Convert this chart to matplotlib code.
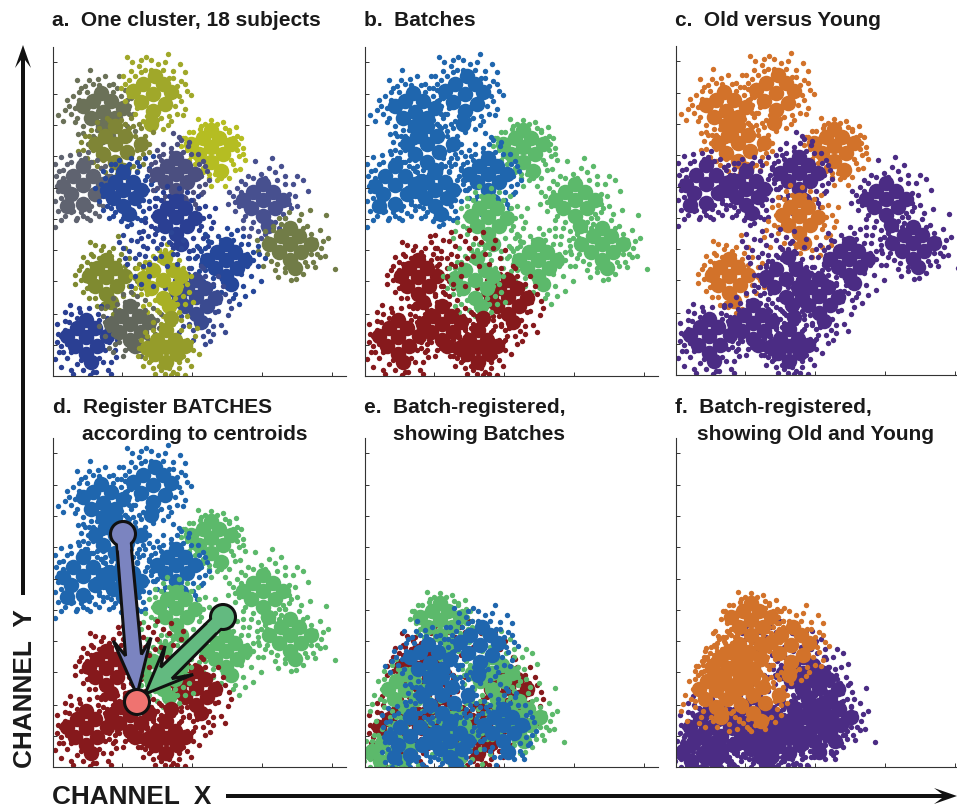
#! /usr/bin/python
import numpy as np
import matplotlib
matplotlib.use("Agg")
import matplotlib.pyplot as plt
from matplotlib.patches import Circle, Polygon

plt.rcParams['font.family'] = ['Liberation Sans', 'DejaVu Sans']

# points read off panel a, x/y measured from the axes origin
# core = dense middle of a subject, dots = single events around it
s01_core = [(50,264),(40,275),(58,275),(38,258),(62,258),(50,250),(48,283),(30,270),(70,268),(55,240)]
s01_dots = [(37,306),(5,261),(12,266),(18,262),(25,242),(28,288),(20,280),(24,296),(45,297),(52,300),(60,292),(66,300),(72,286),(78,278),(14,276),(22,254),(30,243),(35,232),(74,250),(80,262),(70,240),(64,228),(46,291),(34,284),(16,270),(82,245),(42,238),(10,255),
            (22,268),(26,276),(32,290),(40,292),(56,291),(64,288),(74,276),(76,262),(72,252),(66,244),(58,234),(50,234),(40,240),(30,250),(24,258),(36,296),(60,284),(34,262),(44,246),(68,280),(26,284),(76,270)]
s02_core = [(100,282),(90,292),(110,292),(88,274),(112,272),(100,265),(102,300),(118,284),(80,285),(98,252)]
s02_dots = [(74,319),(79,314),(88,316),(93,319),(98,316),(115,322),(127,312),(132,304),(138,281),(132,267),(130,261),(110,247),(115,251),(70,300),(78,305),(86,310),(105,312),(120,305),(128,295),(134,285),(128,275),(124,262),(108,258),(90,255),(82,262),(72,275),(68,288),(118,255),
            (76,296),(82,300),(92,306),(98,306),(110,306),(116,298),(124,290),(126,280),(122,270),(116,260),(104,256),(94,260),(84,268),(76,280),(72,292),(106,300),(120,298),(88,304),(132,292),(112,314),(96,258),(80,290)]
s03_core = [(62,232),(52,240),(72,240),(50,222),(74,224),(62,214),(62,250),(88,232),(42,232),(70,206)]
s03_dots = [(25,225),(34,218),(28,234),(38,246),(44,254),(80,250),(88,248),(92,240),(86,218),(80,210),(56,200),(48,208),(40,214),(96,232),(78,258),(66,262),(54,258),(84,205),(90,222),(32,240),(100,244),(60,196),(74,198),
            (36,240),(40,226),(36,214),(44,210),(52,204),(64,202),(76,208),(84,226),(92,232),(82,240),(76,248),(68,256),(56,256),(46,248),(38,232),(90,212),(72,252),(30,226),(58,198),(96,224),(86,252),(50,216)]
s04_core = [(158,229),(150,238),(166,238),(146,222),(170,222),(158,214),(158,246),(178,232),(138,232),(168,205)]
s04_dots = [(145,257),(158,256),(183,249),(185,232),(187,207),(170,254),(147,247),(130,238),(136,244),(152,252),(176,246),(184,240),(190,228),(186,220),(180,212),(176,198),(164,196),(156,202),(150,208),(142,212),(138,220),(192,216),(172,190),(158,190),(128,230),
            (134,226),(132,238),(140,244),(148,250),(164,252),(172,248),(180,238),(184,226),(178,216),(172,208),(162,202),(150,204),(144,214),(136,216),(176,244),(188,238),(168,198),(154,246),(182,206),(142,236),(156,198),(190,222)]
s05_core = [(30,191),(20,200),(40,200),(18,182),(42,182),(30,172),(30,210),(10,190),(50,192),(14,170)]
s05_dots = [(8,219),(17,221),(2,212),(35,224),(2,149),(8,156),(23,156),(37,156),(3,200),(5,185),(2,175),(5,165),(12,160),(20,165),(30,160),(42,163),(50,170),(55,178),(58,200),(52,210),(44,216),(26,222),(14,212),(6,205),(36,166),(60,188),
            (6,194),(8,178),(12,170),(18,164),(28,164),(38,170),(46,172),(52,180),(56,190),(54,200),(48,208),(38,214),(28,216),(18,214),(10,206),(4,190),(24,158),(46,160),(60,196),(32,218),(10,198),(34,158)]
s06_core = [(70,186),(62,194),(80,194),(60,178),(82,178),(70,170),(70,204),(88,186),(54,186),(76,162)]
s06_dots = [(50,205),(58,212),(66,216),(78,218),(86,210),(92,218),(100,220),(94,200),(98,192),(102,186),(96,175),(90,165),(84,158),(78,152),(68,155),(56,158),(50,166),(46,175),(88,156),(74,210),(60,160),(104,178),(84,214),
            (48,192),(52,198),(58,206),(68,210),(76,212),(84,204),(92,196),(94,186),(90,176),(86,170),(80,160),(70,158),(62,164),(54,170),(50,180),(96,208),(62,212),(100,196),(74,150),(58,168),(92,158),(42,188)]
s07_core = [(123,202),(114,210),(132,210),(112,194),(134,194),(123,186),(123,218),(142,202),(104,202),(128,175)]
s07_dots = [(120,243),(126,239),(110,232),(104,226),(118,228),(135,230),(145,222),(150,215),(154,205),(152,192),(148,182),(140,176),(134,168),(120,170),(110,176),(100,186),(98,196),(98,212),(106,220),(128,236),(156,196),(116,162),(144,168),
            (102,214),(110,222),(118,224),(130,224),(138,222),(146,212),(148,200),(146,190),(140,184),(132,178),(122,176),(112,180),(104,188),(100,200),(124,232),(152,210),(114,170),(142,172),(96,206),(136,234),(108,216),(150,184)]
s08_core = [(123,159),(114,168),(132,168),(112,150),(134,150),(123,142),(123,175),(142,158),(106,160),(128,132)]
s08_dots = [(145,180),(152,170),(156,160),(158,148),(150,138),(146,128),(136,125),(120,128),(108,132),(102,142),(98,150),(96,168),(102,178),(110,184),(134,184),(148,150),(162,168),(155,130),(90,145),(124,122),(112,122),(94,128),(88,138),
            (100,160),(102,170),(108,176),(116,180),(128,180),(138,176),(146,168),(150,158),(146,146),(140,138),(130,130),(118,132),(110,138),(102,148),(136,118),(154,140),(114,190),(92,154),(160,154),(126,188),(106,126),(144,120)]
s09_core = [(210,176),(200,184),(220,184),(198,168),(222,168),(210,160),(210,192),(230,176),(190,176),(215,150)]
s09_dots = [(202,215),(219,218),(250,196),(255,185),(188,195),(195,200),(208,202),(222,204),(232,200),(240,192),(242,180),(238,168),(232,158),(226,148),(212,142),(198,148),(190,156),(182,165),(180,180),(184,188),(175,172),(196,140),(205,145),(228,140),(236,150),
            (188,184),(192,192),(200,198),(212,198),(224,196),(232,192),(236,182),(236,172),(230,162),(222,154),(210,150),(200,154),(192,160),(186,170),(182,174),(244,170),(216,208),(228,210),(176,184),(208,138),(244,200),(190,148)]
s10_core = [(237,132),(228,140),(246,140),(226,124),(248,124),(237,116),(237,148),(258,132),(216,132),(242,108)]
s10_dots = [(282,107),(273,161),(257,166),(275,138),(267,146),(267,119),(262,109),(243,97),(225,99),(205,125),(212,145),(218,115),(210,110),(220,150),(232,158),(246,156),(254,150),(262,130),(264,122),(254,110),(250,102),(232,104),(222,106),(270,135),
            (214,122),(214,138),(220,146),(228,152),(240,152),(250,148),(258,142),(262,136),(258,122),(252,114),(242,108),(232,108),(224,112),(216,128),(268,128),(248,162),(236,164),(204,136),(260,114),(238,96),(272,120),(226,158)]
s11_core = [(173,116),(164,124),(182,124),(162,108),(184,108),(173,100),(173,132),(192,116),(154,116),(178,92)]
s11_dots = [(195,132),(200,124),(205,130),(190,140),(178,142),(165,140),(155,135),(148,125),(142,118),(146,105),(150,95),(160,90),(168,84),(182,82),(190,90),(198,100),(205,110),(200,85),(208,95),(186,72),(180,78),(152,142),(212,118),
            (150,120),(152,128),(158,134),(168,136),(180,136),(188,132),(194,122),(194,110),(188,102),(180,96),(170,94),(160,98),(152,106),(148,112),(200,116),(174,148),(144,130),(166,78),(192,80),(206,122),(138,108),(184,146)]
s12_core = [(143,79),(134,88),(152,88),(132,70),(154,70),(143,62),(143,96),(162,78),(126,78),(148,54)]
s12_dots = [(170,90),(165,65),(160,50),(155,45),(157,35),(172,44),(175,61),(168,51),(165,100),(150,108),(135,102),(122,96),(118,70),(122,55),(130,50),(140,46),(152,32),(176,75),(140,36),(160,42),
            (122,84),(124,92),(130,98),(142,102),(152,100),(160,92),(164,84),(166,74),(162,64),(156,56),(146,50),(136,52),(128,60),(122,70),(118,82),(172,82),(148,110),(112,88),(126,44),(150,40),(178,68),(136,108)]
s13_core = [(53,99),(44,108),(62,108),(42,90),(64,90),(53,82),(53,116),(72,100),(36,100),(58,74)]
s13_dots = [(37,134),(42,131),(65,140),(30,119),(22,101),(22,92),(40,120),(48,126),(56,124),(68,122),(76,118),(82,108),(84,95),(80,82),(74,72),(66,66),(52,68),(44,70),(36,78),(30,84),(28,110),(34,114),(60,128),(88,88),
            (32,96),(34,106),(38,112),(46,118),(58,120),(66,116),(72,110),(76,100),(76,90),(70,80),(62,72),(50,72),(42,78),(34,88),(28,96),(50,130),(72,128),(82,98),(26,106),(60,62),(86,112),(38,122)]
s14_core = [(110,96),(100,106),(120,106),(98,88),(122,88),(110,78),(112,118),(128,100),(90,98),(116,70)]
s14_dots = [(112,126),(118,124),(126,116),(130,108),(134,92),(130,80),(124,72),(104,66),(96,72),(88,82),(84,108),(92,114),(100,120),(86,92),(132,72),(110,60),(120,62),(94,64),(78,100),(136,84),
            (86,100),(90,108),(96,114),(106,116),(116,118),(124,112),(130,98),(128,90),(122,78),(112,72),(102,76),(94,82),(88,90),(106,126),(98,60),(138,100),(82,88),(126,64),(140,74),(114,132),(90,70),(118,108)]
s15_core = [(33,39),(24,48),(42,48),(22,30),(44,30),(33,22),(33,56),(54,40),(14,40),(38,14)]
s15_dots = [(17,71),(27,64),(5,42),(2,17),(8,9),(37,1),(43,4),(55,6),(63,19),(58,2),(8,30),(12,55),(18,62),(36,68),(45,62),(54,58),(60,48),(64,36),(62,26),(50,14),(24,12),(14,18),(6,24),(4,52),(30,6),(18,6),(48,70),
            (12,46),(14,32),(18,24),(28,16),(38,10),(46,18),(52,26),(56,34),(54,48),(46,56),(36,60),(24,58),(16,54),(8,40),(4,34),(10,24),(26,68),(58,14),(66,42),(40,4),(12,64),(20,2)]
s16_core = [(77,52),(68,60),(86,60),(66,44),(88,44),(77,36),(77,70),(96,54),(58,52),(82,30)]
s16_dots = [(50,60),(54,70),(60,78),(70,82),(84,80),(92,76),(100,68),(104,56),(102,42),(96,34),(88,26),(72,26),(62,32),(52,40),(60,24),(94,24),(106,48),(46,50),
            (56,46),(58,58),(62,66),(72,74),(84,72),(92,66),(98,60),(100,48),(94,38),(86,30),(76,28),(66,34),(60,42),(52,54),(78,84),(108,62),(56,28),(70,20),(98,28),(48,68),(64,72),(88,20)]
s17_core = [(113,29),(104,36),(122,36),(102,22),(124,22),(113,14),(113,46),(132,30),(94,28),(118,58)]
s17_dots = [(92,44),(88,36),(85,20),(96,14),(100,8),(108,6),(118,1),(132,1),(102,2),(126,8),(134,16),(140,26),(142,40),(136,50),(128,56),(112,60),(100,54),(92,18),(138,34),(120,4),
            (92,32),(94,22),(98,16),(106,10),(116,8),(126,14),(130,20),(134,36),(128,46),(120,52),(108,52),(100,46),(94,40),(124,2),(112,2),(90,10),(146,22),(134,60),(106,64),(144,48),(138,10),(86,28)]
s18_core = []
s18_dots = [(100,135),(90,130),(70,141),(78,136),(86,122),(95,140),(104,128),(116,134),(128,128),(135,118),(140,126),(82,118),(76,125),(90,110),(96,100),(88,92),(78,90),(70,128),(84,135),(110,138),(120,122),(130,136),(92,120),(102,118),
            (108,120),(74,112),(96,112),(124,112),(114,110),(82,100),(100,90),(72,118),(86,144),(104,146),(118,144),(66,134)]

cores = [s01_core, s02_core, s03_core, s04_core, s05_core, s06_core, s07_core, s08_core, s09_core,
         s10_core, s11_core, s12_core, s13_core, s14_core, s15_core, s16_core, s17_core, s18_core]
dots = [s01_dots, s02_dots, s03_dots, s04_dots, s05_dots, s06_dots, s07_dots, s08_dots, s09_dots,
        s10_dots, s11_dots, s12_dots, s13_dots, s14_dots, s15_dots, s16_dots, s17_dots, s18_dots]

subject_colors = ['#6b7158', '#a0a82a', '#7f8536', '#b5bd22', '#5f6370', '#26489a', '#4b4f80', '#2a3f93', '#47508f',
                  '#717c47', '#25479a', '#3a4a90', '#7f8a30', '#a8b024', '#2a3f93', '#62675c', '#959c2a', '#2c4596']
batches = ['blue', 'blue', 'blue', 'green', 'blue', 'blue', 'blue', 'green', 'green',
           'green', 'green', 'red', 'red', 'green', 'red', 'red', 'red', 'red']
ages = ['old', 'old', 'old', 'old', 'young', 'young', 'young', 'old', 'young',
        'young', 'young', 'young', 'old', 'young', 'young', 'young', 'young', 'young']

batch_colors = {'blue': '#1f66ae', 'green': '#5cb96b', 'red': '#86191c'}
age_colors = {'old': '#d2722a', 'young': '#4b2c84'}
batch_shift = {'blue': (15, -160), 'green': (-83, -82), 'red': (0, 0)}

x_ticks = [69, 139, 209, 279]
y_ticks = [31, 62, 95, 126, 157, 188, 220, 251, 282, 314]

titles = [
    (52, 26.5, "a.  One cluster, 18 subjects"),
    (364, 26.5, "b.  Batches"),
    (675, 26.5, "c.  Old versus Young"),
    (53, 413, "d.  Register BATCHES"),
    (82, 440, "according to centroids"),
    (364, 413, "e.  Batch-registered,"),
    (393, 440, "showing Batches"),
    (675, 413, "f.  Batch-registered,"),
    (697, 440, "showing Old and Young"),
]

W, H = 957, 808
fig = plt.figure(figsize=(W / 100, H / 100), dpi=100)


def make_axes(left, bottom):
    ax = fig.add_axes([left / W, 1 - bottom / H, 293 / W, 329 / H])
    ax.set_xlim(0, 293)
    ax.set_ylim(0, 329)
    ax.set_xticks(x_ticks)
    ax.set_yticks(y_ticks)
    ax.set_xticklabels([])
    ax.set_yticklabels([])
    ax.tick_params(direction='in', length=3, width=0.7, color='#333333')
    ax.spines['top'].set_visible(False)
    ax.spines['right'].set_visible(False)
    ax.spines['left'].set_color('#333333')
    ax.spines['bottom'].set_color('#333333')
    ax.spines['left'].set_linewidth(0.8)
    ax.spines['bottom'].set_linewidth(0.8)
    return ax


def draw_subject(ax, i, color, shift=(0, 0)):
    for pts, size in ((cores[i], 125), (dots[i], 15)):
        if len(pts) == 0:
            continue
        xy = np.array(pts, dtype=float) + shift
        ax.scatter(xy[:, 0], xy[:, 1], s=size, c=color, linewidths=0)


ax_a = make_axes(53, 376)
ax_b = make_axes(365, 376)
ax_c = make_axes(676, 375)
ax_d = make_axes(53, 767)
ax_e = make_axes(365, 767)
ax_f = make_axes(676, 767)

for i in range(18):
    draw_subject(ax_a, i, subject_colors[i])
    draw_subject(ax_b, i, batch_colors[batches[i]])
    draw_subject(ax_c, i, age_colors[ages[i]])
    draw_subject(ax_d, i, batch_colors[batches[i]])

# registered panels, back to front
for batch in ('red', 'green', 'blue'):
    for i in range(18):
        if batches[i] == batch:
            draw_subject(ax_e, i, batch_colors[batch], batch_shift[batch])
for age in ('young', 'old'):
    for i in range(18):
        if ages[i] == age:
            draw_subject(ax_f, i, age_colors[age], batch_shift[batches[i]])

# overlay in pixels for titles and arrows
over = fig.add_axes([0, 0, 1, 1])
over.set_xlim(0, W)
over.set_ylim(H, 0)
over.axis('off')

for x, y, txt in titles:
    over.text(x, y, txt, fontsize=15, fontweight='bold', color='#1a1a1a', ha='left', va='baseline')

over.text(52, 804, "CHANNEL  X", fontsize=18.8, fontweight='bold', color='#1a1a1a', ha='left', va='baseline')
over.text(37, 768, "CHANNEL  Y", fontsize=18.8, fontweight='bold', color='#1a1a1a', rotation=90,
          ha='right', va='bottom')


def long_arrow(start, tip):
    start, tip = np.array(start, float), np.array(tip, float)
    u = (tip - start) / np.linalg.norm(tip - start)
    v = np.array([-u[1], u[0]])
    w = 2.0
    pts = [start + v * w, tip - u * 15 + v * w, tip - u * 23 + v * 8, tip,
           tip - u * 23 - v * 8, tip - u * 15 - v * w, start - v * w]
    over.add_patch(Polygon(pts, closed=True, fc='#111111', ec='none', clip_on=False))


long_arrow((23, 595), (23, 45))
long_arrow((226, 796), (957, 796))


def centroid_arrow(start, tip, color, w0, w1, neck, barb_back, barb):
    start, tip = np.array(start, float), np.array(tip, float)
    u = (tip - start) / np.linalg.norm(tip - start)
    v = np.array([-u[1], u[0]])
    pts = [start + v * w0, tip - u * neck + v * w1, tip - u * barb_back + v * barb, tip,
           tip - u * barb_back - v * barb, tip - u * neck - v * w1, start - v * w0]
    over.add_patch(Polygon(pts, closed=True, fc=color, ec='#111111', lw=2.2, joinstyle='miter'))
    over.add_patch(Circle(start, 12.5, fc=color, ec='#111111', lw=2.2))
    # inner part of the shaft hides the ring where it joins the ball
    over.add_patch(Polygon([start + v * (w0 - 1), start + u * 16 + v * (w0 - 1),
                            start + u * 16 - v * (w0 - 1), start - v * (w0 - 1)],
                           closed=True, fc=color, ec='none'))


centroid_arrow((123, 534), (137, 695), '#7b84c0', 7, 8, 40, 56, 19)
centroid_arrow((223, 617), (145, 694), '#63ba80', 7, 8, 30, 48, 20)
over.add_patch(Circle((137, 702), 12.5, fc='#ef7370', ec='#111111', lw=2.2))

fig.savefig('out.png', dpi=100)
